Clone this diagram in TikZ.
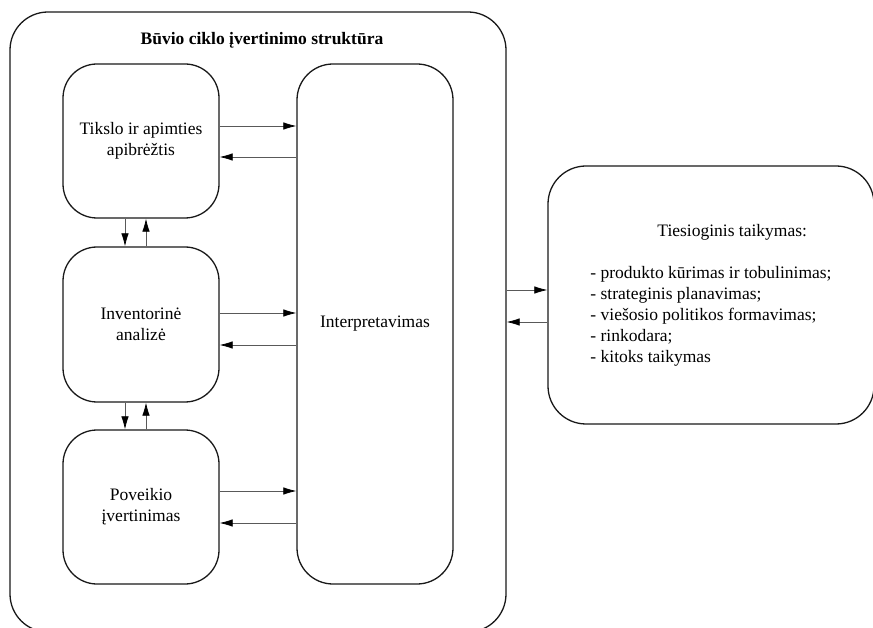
\documentclass[tikz,border=0pt]{standalone}
\usepackage{fontspec}
\setmainfont{Liberation Serif}
\usetikzlibrary{arrows.meta,calc}

\tikzset{
	blokas/.style={draw=black!90, line width=1.3pt, rounded corners=34pt, align=center, inner sep=0pt, font=\fontsize{17.5}{21}\selectfont},
	rodykle/.style={line width=0.7pt, draw=black!65, -{Latex[length=13pt,width=7.5pt,color=black]}}
}

\begin{document}
\begin{tikzpicture}[x=1pt,y=-1pt]
	\useasboundingbox (0,0) rectangle (873,628);
	% isorinis remas
	\node[blokas, minimum width=496, minimum height=620, rounded corners=38pt] (isorinis) at (258,322) {};
	\node[font=\bfseries\fontsize{17.5}{21}\selectfont] (antraste) at (262,40) {Būvio ciklo įvertinimo struktūra};
	\node[blokas, minimum width=156, minimum height=154] (tikslas) at (141,141) {Tikslo ir apimties\\apibrėžtis};
	\node[blokas, minimum width=156, minimum height=155] (inventorine) at (141,324.5) {Inventorinė\\analizė};
	\node[blokas, minimum width=156, minimum height=154] (poveikis) at (141,507) {Poveikio\\įvertinimas};
	\node[blokas, minimum width=156, minimum height=520, rounded corners=36pt] (interp) at (375,324) {Interpretavimas};
	\node[blokas, minimum width=326, minimum height=258, rounded corners=38pt, align=left] (taikymas) at (711,295) {\hspace*{67pt}Tiesioginis taikymas:\\[21pt]
		- produkto kūrimas ir tobulinimas;\\
		- strateginis planavimas;\\
		- viešosio politikos formavimas;\\
		- rinkodara;\\
		- kitoks taikymas};
	% rodykles tarp etapu
	\draw[rodykle] ([xshift=-16]tikslas.south) -- ([xshift=-16]inventorine.north);
	\draw[rodykle] ([xshift=5]inventorine.north) -- ([xshift=5]tikslas.south);
	\draw[rodykle] ([xshift=-16]inventorine.south) -- ([xshift=-16]poveikis.north);
	\draw[rodykle] ([xshift=5]poveikis.north) -- ([xshift=5]inventorine.south);
	\foreach \langelis/\i/\o in {tikslas/15/-16, inventorine/11.5/-20.5, poveikis/16/-16}{
		\draw[rodykle] ([yshift=\i]\langelis.east) -- ([yshift=\i]\langelis.east -| interp.west);
		\draw[rodykle] ([yshift=\o]\langelis.east -| interp.west) -- ([yshift=\o]\langelis.east);
	}
	\draw[rodykle] ([yshift=5]taikymas.west -| isorinis.east) -- ([yshift=5]taikymas.west);
	\draw[rodykle] ([yshift=-27]taikymas.west) -- ([yshift=-27]taikymas.west -| isorinis.east);
%	\draw[color=gray,step=50] (0,0) grid (873,628);
\end{tikzpicture}
\end{document}
